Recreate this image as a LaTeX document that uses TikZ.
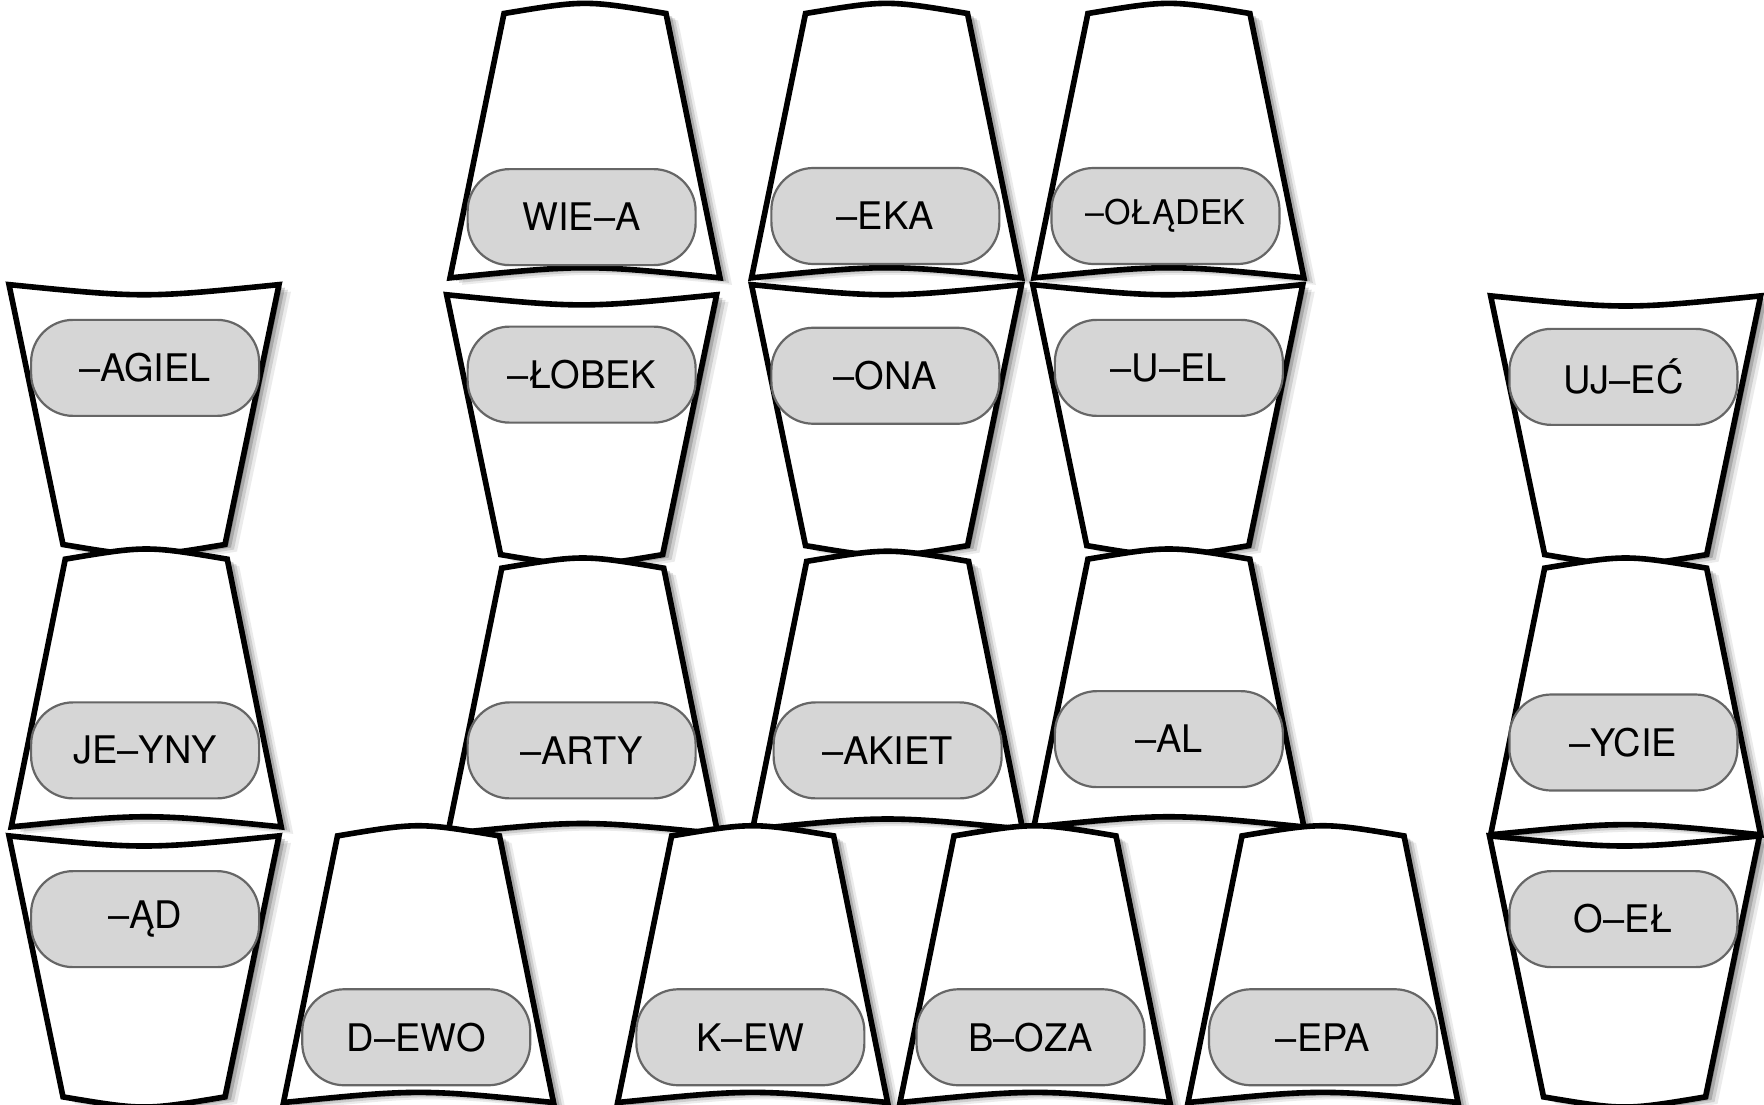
\documentclass[tikz,border=0pt]{standalone}
\usepackage{fontspec}
\setmainfont{TeX Gyre Heros}
\usepackage{tikz}
\definecolor{tagfill}{HTML}{D6D6D6}
\definecolor{tagline}{HTML}{666666}

% cup with the narrow side on top: centre x, top y, bottom y
\newcommand{\cupup}[3]{%
	\draw[cup] ({#1-72},#2) .. controls (#1,{#2-12}) .. ({#1+72},#2) --
		({#1+120},#3) .. controls (#1,{#3-12}) .. ({#1-120},#3) -- cycle;}
% cup with the wide side on top
\newcommand{\cupdown}[3]{%
	\draw[cup] ({#1-120},#2) .. controls (#1,{#2+12}) .. ({#1+120},#2) --
		({#1+72},#3) .. controls (#1,{#3+12}) .. ({#1-72},#3) -- cycle;}

\begin{document}
\begin{tikzpicture}[x=0.5625pt,y=-0.5625pt,
	cup/.style={line width=2.8pt,fill=white,
		preaction={transform canvas={shift={(6pt,-3.5pt)}},fill=black,opacity=.08},
		preaction={transform canvas={shift={(4.5pt,-2.5pt)}},fill=black,opacity=.12},
		preaction={transform canvas={shift={(3pt,-1.5pt)}},fill=black,opacity=.18},
		preaction={transform canvas={shift={(1.5pt,-1pt)}},fill=black,opacity=.25}},
	tag/.style={draw=tagline,fill=tagfill,line width=1.1pt,rounded corners=21pt,
		minimum width=114pt,minimum height=48pt,inner sep=0pt,
		font=\fontsize{19}{22}\selectfont}]
	\useasboundingbox (0,0) rectangle (1568,982);
	% top row
	\cupup{520}{12}{247}
	\cupup{788}{12}{247}
	\cupup{1039}{12}{247}
	\node[tag] (wiea) at (517,193) {WIE–A};
	\node[tag] (eka) at (787,192) {–EKA};
	\node[tag,font=\fontsize{17}{20}\selectfont] (oladek) at (1036,192) {–OŁĄDEK};
	% second row
	\cupdown{128}{253}{484}
	\cupdown{517}{262}{493}
	\cupdown{788}{253}{485}
	\cupdown{1038}{253}{485}
	\cupdown{1445}{263}{493}
	\node[tag] (agiel) at (129,327) {–AGIEL};
	\node[tag] (lobek) at (517,333) {–ŁOBEK};
	\node[tag] (ona) at (787,334) {–ONA};
	\node[tag] (uel) at (1039,327) {–U–EL};
	\node[tag] (ujec) at (1443,335) {UJ–EĆ};
	% third row
	\cupup{130}{497}{735}
	\cupup{518}{505}{741}
	\cupup{789}{499}{737}
	\cupup{1039}{497}{735}
	\cupup{1445}{505}{742}
	\node[tag] (jeyny) at (129,667) {JE–YNY};
	\node[tag] (arty) at (517,667) {–ARTY};
	\node[tag] (akiet) at (789,667) {–AKIET};
	\node[tag] (al) at (1039,657) {–AL};
	\node[tag] (ycie) at (1443,660) {–YCIE};
	% bottom row
	\cupdown{128}{743}{975}
	\cupdown{1444}{743}{975}
	\cupup{372}{743}{980}
	\cupup{669}{743}{980}
	\cupup{920}{743}{980}
	\cupup{1176}{743}{980}
	\node[tag] (ad) at (129,817) {–ĄD};
	\node[tag] (oel) at (1443,817) {O–EŁ};
	\node[tag] (dewo) at (370,922) {D–EWO};
	\node[tag] (kew) at (667,922) {K–EW};
	\node[tag] (boza) at (916,922) {B–OZA};
	\node[tag] (epa) at (1176,922) {–EPA};
\end{tikzpicture}
\end{document}
